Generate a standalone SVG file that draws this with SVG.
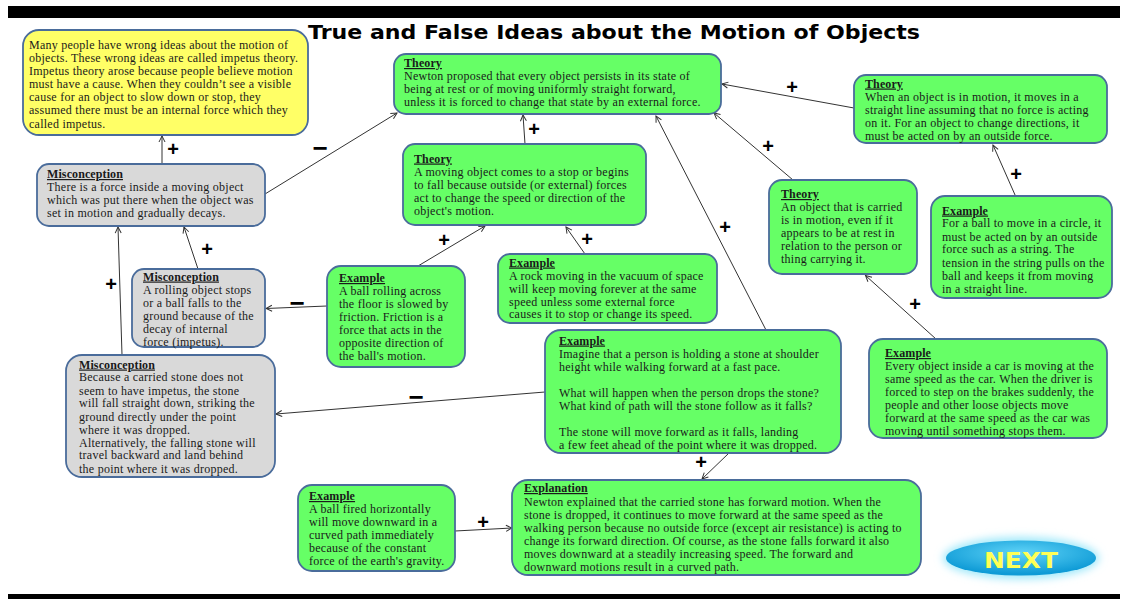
<svg xmlns="http://www.w3.org/2000/svg" width="1122" height="599" viewBox="0 0 1122 599">
<defs>
<style>
.box{stroke:#4A6C9B;stroke-width:1.8}
.g{fill:#66FF66}.gr{fill:#D9D9D9}.y{fill:#FFFF66}
.t{font-family:"Liberation Serif","Times New Roman",serif;font-size:12px;letter-spacing:0.25px;fill:#1a1a1a}
.h{font-weight:bold;text-decoration:underline;letter-spacing:0.1px}
.c{stroke:#333;stroke-width:1;fill:none}
.s{font-family:"Liberation Sans",Arial,sans-serif;font-weight:bold;fill:#000;text-anchor:middle}
.p{font-size:20px}.m{font-size:26px}
</style>
<marker id="a" markerWidth="8" markerHeight="8" refX="7" refY="4" orient="auto" markerUnits="userSpaceOnUse">
<path d="M1,1 L7,4 L1,7" fill="none" stroke="#333" stroke-width="1"/>
</marker>
<radialGradient id="ng" cx="50%" cy="35%" r="60%">
<stop offset="0" stop-color="#5FD3F7"/>
<stop offset="1" stop-color="#0F9BD6"/>
</radialGradient>
<filter id="glow" x="-30%" y="-60%" width="160%" height="220%">
<feGaussianBlur stdDeviation="4"/>
</filter>
</defs>
<rect width="1122" height="599" fill="#fff"/>
<rect x="8" y="6" width="1112" height="12" fill="#000"/>
<rect x="8" y="594" width="1112" height="5" fill="#000"/>
<text x="614" y="38.5" text-anchor="middle" textLength="612" lengthAdjust="spacingAndGlyphs" font-family="'DejaVu Sans',Verdana,sans-serif" font-weight="bold" font-size="19">True and False Ideas about the Motion of Objects</text>

<g id="connectors">
<line class="c" x1="162" y1="164" x2="162" y2="136" marker-end="url(#a)"/>
<line class="c" x1="265" y1="194" x2="397" y2="113" marker-end="url(#a)"/>
<line class="c" x1="198" y1="269" x2="184" y2="227" marker-end="url(#a)"/>
<line class="c" x1="122" y1="355" x2="118" y2="227" marker-end="url(#a)"/>
<line class="c" x1="327" y1="306" x2="266" y2="308.5" marker-end="url(#a)"/>
<line class="c" x1="418" y1="266" x2="485" y2="226" marker-end="url(#a)"/>
<line class="c" x1="585" y1="254" x2="566" y2="227" marker-end="url(#a)"/>
<line class="c" x1="525" y1="144" x2="523" y2="115" marker-end="url(#a)"/>
<line class="c" x1="766" y1="330" x2="656" y2="116" marker-end="url(#a)"/>
<line class="c" x1="793" y1="180" x2="714" y2="113" marker-end="url(#a)"/>
<line class="c" x1="854" y1="108" x2="722" y2="84" marker-end="url(#a)"/>
<line class="c" x1="1015.5" y1="196" x2="993" y2="145" marker-end="url(#a)"/>
<line class="c" x1="936" y1="339" x2="865.5" y2="275.5" marker-end="url(#a)"/>
<line class="c" x1="545" y1="392" x2="276" y2="414" marker-end="url(#a)"/>
<line class="c" x1="729" y1="453" x2="702" y2="479" marker-end="url(#a)"/>
<line class="c" x1="455" y1="531" x2="512" y2="528" marker-end="url(#a)"/>
<text class="s p" x="173" y="156">+</text>
<text class="s m" x="320" y="157">−</text>
<text class="s p" x="207" y="256">+</text>
<text class="s p" x="111" y="291">+</text>
<text class="s m" x="297" y="312">−</text>
<text class="s p" x="444" y="247">+</text>
<text class="s p" x="587" y="246">+</text>
<text class="s p" x="534" y="136">+</text>
<text class="s p" x="725" y="234">+</text>
<text class="s p" x="768" y="153">+</text>
<text class="s p" x="792" y="94">+</text>
<text class="s p" x="1016" y="181">+</text>
<text class="s p" x="915" y="311">+</text>
<text class="s m" x="416" y="406">−</text>
<text class="s p" x="701" y="469">+</text>
<text class="s p" x="483" y="529">+</text>
</g>

<g id="intro">
<rect class="box y" x="23" y="30" width="285" height="105" rx="16"/>
<text class="t" x="29"><tspan x="29" y="49">Many people have wrong ideas about the motion of</tspan><tspan x="29" y="62">objects. These wrong ideas are called impetus theory.</tspan><tspan x="29" y="75">Impetus theory arose because people believe motion</tspan><tspan x="29" y="88">must have a cause.  When they couldn’t see a visible</tspan><tspan x="29" y="101">cause for an object to slow down or stop, they</tspan><tspan x="29" y="114">assumed there must be an internal force which they</tspan><tspan x="29" y="127.5">called impetus.</tspan></text>
</g>

<g id="theory-newton">
<rect class="box g" x="394" y="54" width="327" height="60" rx="12"/>
<text class="t"><tspan class="h" x="404" y="67">Theory</tspan><tspan x="404" y="80">Newton proposed that every object persists in its state of</tspan><tspan x="404" y="93">being at rest or of moving uniformly straight forward,</tspan><tspan x="404" y="106">unless it is forced to change that state by an external force.</tspan></text>
</g>

<g id="theory-straight">
<rect class="box g" x="854" y="75" width="253" height="68" rx="12"/>
<text class="t"><tspan class="h" x="865" y="87.5">Theory</tspan><tspan x="865" y="100.5">When an object is in motion, it moves in a</tspan><tspan x="865" y="113.5">straight line assuming that no force is acting</tspan><tspan x="865" y="126.5">on it. For an object to change directions, it</tspan><tspan x="865" y="139.5">must be acted on by an outside force.</tspan></text>
</g>

<g id="misconception-force">
<rect class="box gr" x="37" y="164" width="228" height="62" rx="12"/>
<text class="t"><tspan class="h" x="47" y="178">Misconception</tspan><tspan x="47" y="191">There is a force inside a moving object</tspan><tspan x="47" y="204">which was put there when the object was</tspan><tspan x="47" y="217">set in motion and gradually decays.</tspan></text>
</g>

<g id="misconception-rolling">
<rect class="box gr" x="132" y="269" width="133" height="78" rx="12"/>
<text class="t"><tspan class="h" x="143" y="280.5">Misconception</tspan><tspan x="143" y="293.5">A rolling object stops</tspan><tspan x="143" y="306.5">or a ball falls to the</tspan><tspan x="143" y="319.5">ground because of the</tspan><tspan x="143" y="332.5">decay of internal</tspan><tspan x="143" y="345.5">force (impetus).</tspan></text>
</g>

<g id="theory-stop">
<rect class="box g" x="403" y="144" width="243" height="81" rx="12"/>
<text class="t"><tspan class="h" x="414" y="162.5">Theory</tspan><tspan x="414" y="175.5">A moving object comes to a stop or begins</tspan><tspan x="414" y="188.5">to fall because outside (or external) forces</tspan><tspan x="414" y="201.5">act to change the speed or direction of the</tspan><tspan x="414" y="214.5">object's motion.</tspan></text>
</g>

<g id="example-rolling">
<rect class="box g" x="327" y="266" width="138" height="101" rx="14"/>
<text class="t"><tspan class="h" x="339" y="282">Example</tspan><tspan x="339" y="295">A ball rolling across</tspan><tspan x="339" y="308">the floor is slowed by</tspan><tspan x="339" y="321">friction. Friction is a</tspan><tspan x="339" y="334">force that acts in the</tspan><tspan x="339" y="347">opposite direction of</tspan><tspan x="339" y="360">the ball's motion.</tspan></text>
</g>

<g id="example-rock">
<rect class="box g" x="498" y="254" width="219" height="69" rx="12"/>
<text class="t"><tspan class="h" x="509" y="266.5">Example</tspan><tspan x="509" y="279.5">A rock moving in the vacuum of space</tspan><tspan x="509" y="292.5">will keep moving forever at the same</tspan><tspan x="509" y="305.5">speed unless some external force</tspan><tspan x="509" y="318">causes it to stop or change its speed.</tspan></text>
</g>

<g id="theory-carried">
<rect class="box g" x="769" y="180" width="148" height="94" rx="13"/>
<text class="t"><tspan class="h" x="781" y="198">Theory</tspan><tspan x="781" y="210.5">An object that is carried</tspan><tspan x="781" y="223.5">is in motion, even if it</tspan><tspan x="781" y="237">appears to be at rest in</tspan><tspan x="781" y="250">relation to the person or</tspan><tspan x="781" y="263">thing carrying it.</tspan></text>
</g>

<g id="example-circle">
<rect class="box g" x="931" y="196" width="181" height="102" rx="14"/>
<text class="t"><tspan class="h" x="942" y="214.5">Example</tspan><tspan x="942" y="227">For a ball to move in a circle, it</tspan><tspan x="942" y="240.5">must be acted on by an outside</tspan><tspan x="942" y="253">force such as a string. The</tspan><tspan x="942" y="266.5">tension in the string pulls on the</tspan><tspan x="942" y="279.5">ball and keeps it from moving</tspan><tspan x="942" y="292.5">in a straight line.</tspan></text>
</g>

<g id="example-car">
<rect class="box g" x="869" y="339" width="238" height="99" rx="14"/>
<text class="t"><tspan class="h" x="885" y="357">Example</tspan><tspan x="885" y="370">Every object inside a car is moving at the</tspan><tspan x="885" y="383">same speed as the car. When the driver is</tspan><tspan x="885" y="396">forced to step on the brakes suddenly, the</tspan><tspan x="885" y="409">people and other loose objects move</tspan><tspan x="885" y="422">forward at the same speed as the car was</tspan><tspan x="885" y="435">moving until something stops them.</tspan></text>
</g>

<g id="misconception-stone">
<rect class="box gr" x="66" y="355" width="209" height="122" rx="16"/>
<text class="t"><tspan class="h" x="79" y="368.5">Misconception</tspan><tspan x="79" y="381">Because a carried stone does not</tspan><tspan x="79" y="394.5">seem to have impetus, the stone</tspan><tspan x="79" y="407">will fall straight down, striking the</tspan><tspan x="79" y="420.5">ground directly under the point</tspan><tspan x="79" y="433.5">where it was dropped.</tspan><tspan x="79" y="446.5">Alternatively, the falling stone will</tspan><tspan x="79" y="459">travel backward and land behind</tspan><tspan x="79" y="472.5">the point where it was dropped.</tspan></text>
</g>

<g id="example-stone">
<rect class="box g" x="545" y="330" width="296" height="123" rx="16"/>
<text class="t"><tspan class="h" x="559" y="344.5">Example</tspan><tspan x="559" y="357.5">Imagine that a person is holding a stone at shoulder</tspan><tspan x="559" y="371">height while walking forward at a fast pace.</tspan><tspan x="559" y="396.5">What will happen when the person drops the stone?</tspan><tspan x="559" y="410">What kind of path will the stone follow as it falls?</tspan><tspan x="559" y="436">The stone will move forward as it falls, landing</tspan><tspan x="559" y="449">a few feet ahead of the point where it was dropped.</tspan></text>
</g>

<g id="example-fired">
<rect class="box g" x="298" y="485" width="157" height="86" rx="14"/>
<text class="t"><tspan class="h" x="309" y="500">Example</tspan><tspan x="309" y="513">A ball fired horizontally</tspan><tspan x="309" y="526">will move downward in a</tspan><tspan x="309" y="539">curved path immediately</tspan><tspan x="309" y="552">because of the constant</tspan><tspan x="309" y="565">force of the earth's gravity.</tspan></text>
</g>

<g id="explanation">
<rect class="box g" x="512" y="480" width="409" height="95" rx="16"/>
<text class="t"><tspan class="h" x="524" y="492">Explanation</tspan><tspan x="524" y="506">Newton explained that the carried stone has forward motion. When the</tspan><tspan x="524" y="519">stone is dropped, it continues to move forward at the same speed as the</tspan><tspan x="524" y="532">walking person because no outside force (except air resistance) is acting to</tspan><tspan x="524" y="545">change its forward direction. Of course, as the stone falls forward it also</tspan><tspan x="524" y="558">moves downward at a steadily increasing speed. The forward and</tspan><tspan x="524" y="571">downward motions result in a curved path.</tspan></text>
</g>

<g id="next">
<ellipse cx="1021" cy="558" rx="78" ry="21" fill="#9FE8FA" filter="url(#glow)"/>
<ellipse cx="1021" cy="558" rx="75" ry="17.5" fill="url(#ng)"/>
<text x="1021" y="568" text-anchor="middle" textLength="74" lengthAdjust="spacingAndGlyphs" font-family="'DejaVu Sans',Verdana,sans-serif" font-weight="bold" font-size="21" fill="#FFFF55">NEXT</text>
</g>
</svg>
